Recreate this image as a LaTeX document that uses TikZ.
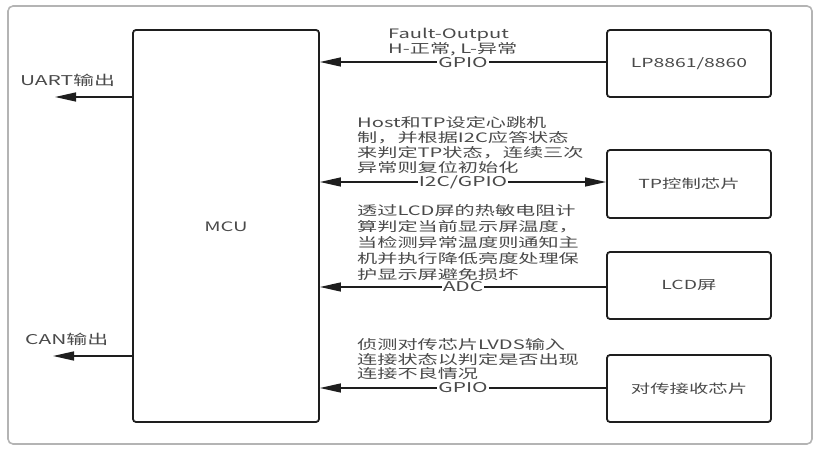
\documentclass[tikz,border=0pt]{standalone}
\usepackage{fontspec}
\setmainfont{Noto Sans CJK SC}[FakeStretch=1.55]
\usetikzlibrary{arrows.meta}
\definecolor{txt}{HTML}{4A4A4A}
\definecolor{ln}{HTML}{1E1E1E}
\definecolor{frame}{HTML}{B4B4B4}
\tikzset{
  blk/.style={draw=ln, line width=1.8pt, rounded corners=3pt, minimum width=164pt, minimum height=67pt, font=\fontsize{12.5}{15}\selectfont, text=txt},
  conn/.style={draw=ln, line width=1.4pt},
  tip/.style={-{Triangle[length=21pt,width=9pt]}},
  lab/.style={fill=white, inner sep=1pt, font=\fontsize{13.5}{14}\selectfont, text=txt},
  note/.style={align=left, inner sep=0pt, anchor=west, text=txt},
  side/.style={inner sep=0pt, font=\fontsize{13.5}{15}\selectfont, text=txt}
}
\begin{document}
\begin{tikzpicture}[x=1pt,y=-1pt]
\useasboundingbox (0,0) rectangle (825,454);
\draw[frame, line width=1.6pt, rounded corners=5pt] (8,6) rectangle (812,444);
% MCU
\node[draw=ln, line width=1.8pt, rounded corners=3pt, minimum width=186pt, minimum height=392pt, inner sep=0pt] (mcu) at (226,226) {};
\node[font=\fontsize{13}{15}\selectfont, text=txt] (mcul) at (226,227) {MCU};
% right blocks
\node[blk] (lp) at (689,63.5) {LP8861/8860};
\node[blk, minimum height=68pt] (tp) at (689,184) {TP控制芯片};
\node[blk] (lcd) at (689,285.5) {LCD屏};
\node[blk] (rx) at (689,388.5) {对传接收芯片};
% connectors
\draw[conn, tip] (lp.west |- 0,62) -- (mcu.east |- 0,62);
\draw[conn, {Triangle[length=21pt,width=9pt]}-{Triangle[length=21pt,width=9pt]}] (mcu.east |- 0,182) -- (tp.west |- 0,182);
\draw[conn, tip] (lcd.west |- 0,287) -- (mcu.east |- 0,287);
\draw[conn, tip] (rx.west |- 0,388) -- (mcu.east |- 0,388);
% arrow labels
\node[lab] (g1) at (463,63) {GPIO};
\node[lab] (g2) at (463,182) {I2C/GPIO};
\node[lab] (g3) at (463,287) {ADC};
\node[lab] (g4) at (463,388) {GPIO};
% notes
\node[note, font=\fontsize{13}{15}\selectfont] (n1) at (388,42.5) {Fault-Output\\H-正常, L-异常};
\node[note, font=\fontsize{13}{15}\selectfont] (n2) at (357,145.5) {Host和TP设定心跳机\\制，并根据I2C应答状态\\来判定TP状态，连续三次\\异常则复位初始化};
\node[note, font=\fontsize{13}{15.8}\selectfont] (n3) at (357,242.5) {透过LCD屏的热敏电阻计\\算判定当前显示屏温度，\\当检测异常温度则通知主\\机并执行降低亮度处理保\\护显示屏避免损坏};
\node[note, font=\fontsize{13}{14.5}\selectfont] (n4) at (357,359.5) {侦测对传芯片LVDS输入\\连接状态以判定是否出现\\连接不良情况};
% left outputs
\coordinate (uo) at (55,97);
\coordinate (co) at (53,356);
\draw[conn, tip] (mcu.west |- uo) -- (uo);
\draw[conn, tip] (mcu.west |- co) -- (co);
\node[side, anchor=west] (ul) at (20,80) {UART输出};
\node[side, anchor=west] (cl) at (25,339) {CAN输出};
\end{tikzpicture}
\end{document}
